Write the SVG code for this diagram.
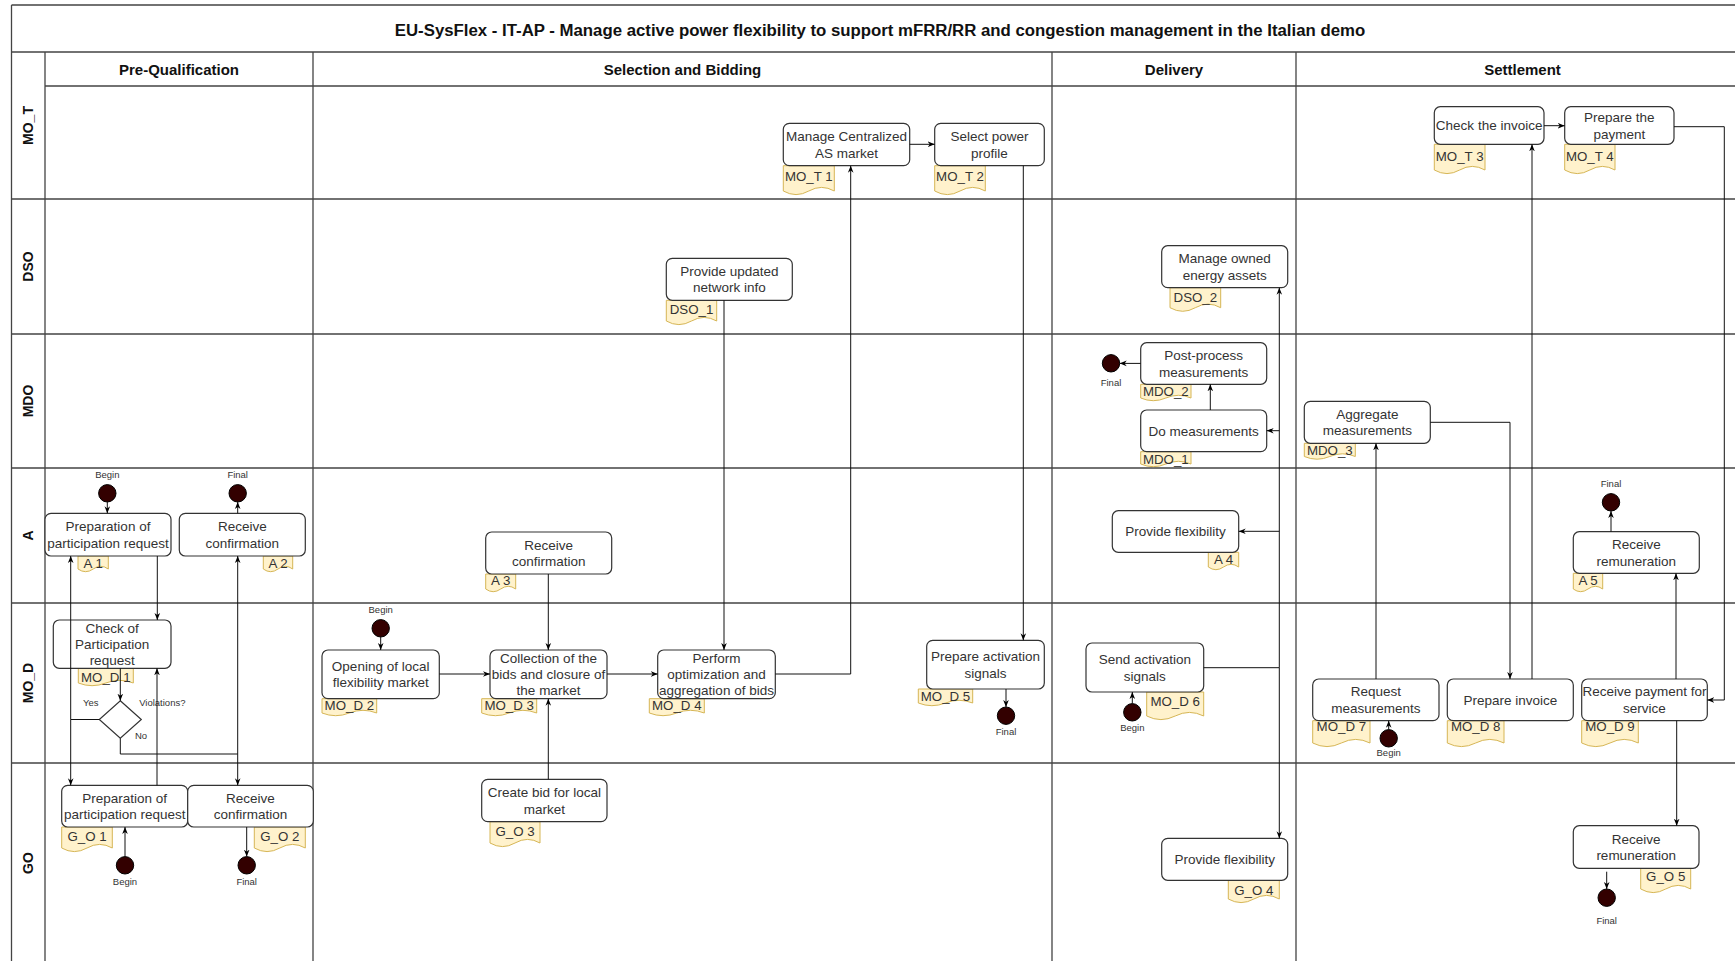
<svg xmlns="http://www.w3.org/2000/svg" width="1735" height="961" viewBox="0 0 1735 961">
  <defs>
    <marker id="arr" viewBox="0 0 10 10" refX="10" refY="5" markerWidth="7" markerHeight="7" markerUnits="userSpaceOnUse" orient="auto">
      <path d="M0,1 L10,5 L0,9 L3,5 Z" fill="#000"/>
    </marker>
    <style>
      .ln { stroke:#444; stroke-width:1.3; fill:none }
      .box { fill:#fff; stroke:#333; stroke-width:1.2 }
      .tag { fill:#fff2cc; stroke:#d6b656; stroke-width:1 }
      .t { font-family:"Liberation Sans", Arial, sans-serif; font-size:13.5px; fill:#333; text-anchor:middle }
      .tg { font-size:13.3px }
      .sm { font-size:9.5px }
      .hd { font-weight:bold; fill:#111; font-size:15px }
      .ttl { font-weight:bold; fill:#111; font-size:16.8px }
      .lane { font-weight:bold; fill:#111; font-size:14px }
      .edge { fill:none; stroke:#111; stroke-width:1; marker-end:url(#arr) }
      .dot { fill:#330000; stroke:#000; stroke-width:1 }
      .dia { fill:#fff; stroke:#333; stroke-width:1.2 }
    </style>
  </defs>

  <rect width="1735" height="961" fill="#fff"/>

  <!-- pool frame, phase columns and swimlanes -->
  <g id="frame">
    <path class="ln" d="M11.5,5 H1749 M11.5,5 V963 M11.5,52 H1749 M45,86 H1749 M45,52 V963"/>
    <path class="ln" d="M11.5,199 H1749 M11.5,334 H1749 M11.5,468 H1749 M11.5,603 H1749 M11.5,763 H1749"/>
    <path class="ln" d="M313,52 V963 M1052,52 V963 M1296,52 V963"/>
    <text class="t ttl" x="880" y="36">EU-SysFlex - IT-AP - Manage active power flexibility to support mFRR/RR and congestion management in the Italian demo</text>
    <text class="t hd" x="179" y="75">Pre-Qualification</text>
    <text class="t hd" x="682.5" y="75">Selection and Bidding</text>
    <text class="t hd" x="1174" y="75">Delivery</text>
    <text class="t hd" x="1522.5" y="75">Settlement</text>
    <text class="t lane" transform="translate(33,125.5) rotate(-90)">MO_T</text>
    <text class="t lane" transform="translate(33,266.5) rotate(-90)">DSO</text>
    <text class="t lane" transform="translate(33,401) rotate(-90)">MDO</text>
    <text class="t lane" transform="translate(33,535.5) rotate(-90)">A</text>
    <text class="t lane" transform="translate(33,683) rotate(-90)">MO_D</text>
    <text class="t lane" transform="translate(33,863) rotate(-90)">GO</text>
  </g>

  <!-- Pre-Qualification -->
  <g id="A1">
    <path class="tag" d="M78,556 H108.3 V569 Q100.7,563.6 93.2,569 Q85.6,574.4 78,569 Z"/>
    <text class="t tg" x="93.2" y="567.6">A 1</text>
    <rect class="box" x="45" y="513.3" width="126" height="42.7" rx="6"/>
    <text class="t" x="108" y="531.15">Preparation of</text>
    <text class="t" x="108" y="547.75">participation request</text>
  </g>
  <g id="A2">
    <path class="tag" d="M263.3,556 H292.7 V569 Q285.35,563.6 278,569 Q270.65,574.4 263.3,569 Z"/>
    <text class="t tg" x="278" y="567.6">A 2</text>
    <rect class="box" x="179.3" y="513.3" width="126" height="42.7" rx="6"/>
    <text class="t" x="242.3" y="531.15">Receive</text>
    <text class="t" x="242.3" y="547.75">confirmation</text>
  </g>
  <g id="MO_D1">
    <path class="tag" d="M78.3,668.3 H133.3 V683 Q119.55,677.6 105.8,683 Q92.05,688.4 78.3,683 Z"/>
    <text class="t tg" x="105.8" y="681.6">MO_D 1</text>
    <rect class="box" x="53.3" y="620" width="117.7" height="48.3" rx="6"/>
    <text class="t" x="112.15" y="632.95">Check of</text>
    <text class="t" x="112.15" y="648.95">Participation</text>
    <text class="t" x="112.15" y="664.95">request</text>
  </g>
  <g id="Decision1">
    <path class="dia" d="M120.3,700.7 L141.3,719.5 L120.3,738.3 L99.3,719.5 Z"/>
    <text class="t sm" x="90.7" y="706.2">Yes</text>
    <text class="t sm" x="162.3" y="706.2">Violations?</text>
    <text class="t sm" x="141" y="738.5">No</text>
  </g>
  <g id="G_O1">
    <path class="tag" d="M61.7,827 H112.3 V848 Q99.65,840.8 87,848 Q74.35,855.2 61.7,848 Z"/>
    <text class="t tg" x="87" y="840.6">G_O 1</text>
    <rect class="box" x="61.7" y="785.3" width="126" height="41.7" rx="6"/>
    <text class="t" x="124.7" y="802.65">Preparation of</text>
    <text class="t" x="124.7" y="819.25">participation request</text>
  </g>
  <g id="G_O2">
    <path class="tag" d="M254.3,827 H305.3 V848 Q292.55,840.8 279.8,848 Q267.05,855.2 254.3,848 Z"/>
    <text class="t tg" x="279.8" y="840.6">G_O 2</text>
    <rect class="box" x="187.7" y="785.3" width="125.6" height="41.7" rx="6"/>
    <text class="t" x="250.5" y="802.65">Receive</text>
    <text class="t" x="250.5" y="819.25">confirmation</text>
  </g>
  <g id="PQ-events">
    <circle class="dot" cx="107.3" cy="493.3" r="8.7"/>
    <text class="t sm" x="107.3" y="478.2">Begin</text>
    <circle class="dot" cx="237.7" cy="493.3" r="8.7"/>
    <text class="t sm" x="237.7" y="478.2">Final</text>
    <circle class="dot" cx="125" cy="865.3" r="8.7"/>
    <text class="t sm" x="125" y="885.2">Begin</text>
    <circle class="dot" cx="246.7" cy="865.3" r="8.7"/>
    <text class="t sm" x="246.7" y="885.2">Final</text>
  </g>

  <!-- Selection and Bidding -->
  <g id="A3">
    <path class="tag" d="M485.7,574 H515.7 V589 Q508.2,583.6 500.7,589 Q493.2,594.4 485.7,589 Z"/>
    <text class="t tg" x="500.7" y="584.6">A 3</text>
    <rect class="box" x="485.7" y="532" width="126" height="42" rx="6"/>
    <text class="t" x="548.7" y="549.5">Receive</text>
    <text class="t" x="548.7" y="566.1">confirmation</text>
  </g>
  <g id="MO_D2">
    <path class="tag" d="M322,698.7 H376.7 V713 Q363,707.6 349.35,713 Q335.7,718.4 322,713 Z"/>
    <text class="t tg" x="349.35" y="710.3">MO_D 2</text>
    <rect class="box" x="322" y="650" width="117.3" height="48.7" rx="6"/>
    <text class="t" x="380.65" y="670.85">Opening of local</text>
    <text class="t" x="380.65" y="687.45">flexibility market</text>
  </g>
  <g id="MO_D3">
    <path class="tag" d="M481.7,698.7 H536.7 V713 Q522.95,707.6 509.2,713 Q495.45,718.4 481.7,713 Z"/>
    <text class="t tg" x="509.2" y="710.3">MO_D 3</text>
    <rect class="box" x="490" y="650" width="117" height="48.7" rx="6"/>
    <text class="t" x="548.5" y="663.15">Collection of the</text>
    <text class="t" x="548.5" y="679.15">bids and closure of</text>
    <text class="t" x="548.5" y="695.15">the market</text>
  </g>
  <g id="MO_D4">
    <path class="tag" d="M649.3,698.7 H704.3 V713 Q690.55,707.6 676.8,713 Q663.05,718.4 649.3,713 Z"/>
    <text class="t tg" x="676.8" y="710.3">MO_D 4</text>
    <rect class="box" x="657.7" y="650" width="117.6" height="48.7" rx="6"/>
    <text class="t" x="716.5" y="663.15">Perform</text>
    <text class="t" x="716.5" y="679.15">optimization and</text>
    <text class="t" x="716.5" y="695.15">aggregation of bids</text>
  </g>
  <g id="G_O3">
    <path class="tag" d="M490,821.7 H540 V843 Q527.5,835.8 515,843 Q502.5,850.2 490,843 Z"/>
    <text class="t tg" x="515" y="835.6">G_O 3</text>
    <rect class="box" x="481.7" y="779.3" width="125.3" height="42.4" rx="6"/>
    <text class="t" x="544.35" y="797">Create bid for local</text>
    <text class="t" x="544.35" y="813.6">market</text>
  </g>
  <g id="MO_T1">
    <path class="tag" d="M783.3,165.7 H834.3 V191 Q821.55,183.8 808.8,191 Q796.05,198.2 783.3,191 Z"/>
    <text class="t tg" x="808.8" y="181.3">MO_T 1</text>
    <rect class="box" x="783.3" y="123.3" width="126.4" height="42.4" rx="6"/>
    <text class="t" x="846.5" y="141">Manage Centralized</text>
    <text class="t" x="846.5" y="157.6">AS market</text>
  </g>
  <g id="MO_T2">
    <path class="tag" d="M934.7,165.7 H985.3 V191 Q972.65,183.8 960,191 Q947.35,198.2 934.7,191 Z"/>
    <text class="t tg" x="960" y="181.3">MO_T 2</text>
    <rect class="box" x="934.7" y="123.3" width="109.6" height="42.4" rx="6"/>
    <text class="t" x="989.5" y="141">Select power</text>
    <text class="t" x="989.5" y="157.6">profile</text>
  </g>
  <g id="DSO_1">
    <path class="tag" d="M666.3,300.3 H716.7 V321 Q704.1,313.8 691.5,321 Q678.9,328.2 666.3,321 Z"/>
    <text class="t tg" x="691.5" y="313.9">DSO_1</text>
    <rect class="box" x="666.3" y="258.3" width="126" height="42" rx="6"/>
    <text class="t" x="729.3" y="275.8">Provide updated</text>
    <text class="t" x="729.3" y="292.4">network info</text>
  </g>
  <g id="MO_D5">
    <path class="tag" d="M918.3,689 H972.7 V703 Q959.1,697.6 945.5,703 Q931.9,708.4 918.3,703 Z"/>
    <text class="t tg" x="945.5" y="701.3">MO_D 5</text>
    <rect class="box" x="926.7" y="640.3" width="117.6" height="48.7" rx="6"/>
    <text class="t" x="985.5" y="661.15">Prepare activation</text>
    <text class="t" x="985.5" y="677.75">signals</text>
  </g>
  <g id="SB-events">
    <circle class="dot" cx="380.7" cy="628.3" r="8.7"/>
    <text class="t sm" x="380.7" y="612.8">Begin</text>
    <circle class="dot" cx="1006" cy="715.7" r="8.7"/>
    <text class="t sm" x="1006" y="734.5">Final</text>
  </g>

  <!-- Delivery -->
  <g id="MO_D6">
    <path class="tag" d="M1146.7,692 H1203.7 V716 Q1189.45,708.8 1175.2,716 Q1160.95,723.2 1146.7,716 Z"/>
    <text class="t tg" x="1175.2" y="706.3">MO_D 6</text>
    <rect class="box" x="1086" y="643" width="117.7" height="49" rx="6"/>
    <text class="t" x="1144.85" y="664">Send activation</text>
    <text class="t" x="1144.85" y="680.6">signals</text>
  </g>
  <g id="G_O4">
    <path class="tag" d="M1228.3,880.3 H1279.3 V899 Q1266.55,891.8 1253.8,899 Q1241.05,906.2 1228.3,899 Z"/>
    <text class="t tg" x="1253.8" y="894.6">G_O 4</text>
    <rect class="box" x="1161.7" y="838.3" width="126" height="42" rx="6"/>
    <text class="t" x="1224.7" y="864.1">Provide flexibility</text>
  </g>
  <g id="DSO_2">
    <path class="tag" d="M1170,287.7 H1220.7 V307.7 Q1208,300.5 1195.35,307.7 Q1182.7,314.9 1170,307.7 Z"/>
    <text class="t tg" x="1195.35" y="302.3">DSO_2</text>
    <rect class="box" x="1161.7" y="245.7" width="126" height="42" rx="6"/>
    <text class="t" x="1224.7" y="263.2">Manage owned</text>
    <text class="t" x="1224.7" y="279.8">energy assets</text>
  </g>
  <g id="MDO_2">
    <path class="tag" d="M1140.7,384.3 H1191 V398 Q1178.4,392.6 1165.85,398 Q1153.3,403.4 1140.7,398 Z"/>
    <text class="t tg" x="1165.85" y="396.3">MDO_2</text>
    <rect class="box" x="1140.7" y="342.7" width="126" height="41.6" rx="6"/>
    <text class="t" x="1203.7" y="360">Post-process</text>
    <text class="t" x="1203.7" y="376.6">measurements</text>
  </g>
  <g id="MDO_1">
    <path class="tag" d="M1140.7,451.7 H1191 V464 Q1178.4,458.6 1165.85,464 Q1153.3,469.4 1140.7,464 Z"/>
    <text class="t tg" x="1165.85" y="463.6">MDO_1</text>
    <rect class="box" x="1140.7" y="410" width="126" height="41.7" rx="6"/>
    <text class="t" x="1203.7" y="435.65">Do measurements</text>
  </g>
  <g id="A4">
    <path class="tag" d="M1208.3,552.3 H1238.7 V567 Q1231.1,561.6 1223.5,567 Q1215.9,572.4 1208.3,567 Z"/>
    <text class="t tg" x="1223.5" y="563.6">A 4</text>
    <rect class="box" x="1112.3" y="510.7" width="126.4" height="41.6" rx="6"/>
    <text class="t" x="1175.5" y="536.3">Provide flexibility</text>
  </g>
  <g id="DL-events">
    <circle class="dot" cx="1132.3" cy="712.3" r="8.7"/>
    <text class="t sm" x="1132.3" y="731.2">Begin</text>
    <circle class="dot" cx="1111" cy="363.3" r="8.7"/>
    <text class="t sm" x="1111" y="385.8">Final</text>
  </g>

  <!-- Settlement -->
  <g id="MO_T3">
    <path class="tag" d="M1434.3,144.3 H1485 V170 Q1472.3,162.8 1459.65,170 Q1447,177.2 1434.3,170 Z"/>
    <text class="t tg" x="1459.65" y="160.6">MO_T 3</text>
    <rect class="box" x="1434.3" y="106.7" width="109.7" height="37.6" rx="6"/>
    <text class="t" x="1489.15" y="130.3">Check the invoice</text>
  </g>
  <g id="MO_T4">
    <path class="tag" d="M1564.7,144.3 H1615 V170 Q1602.4,162.8 1589.85,170 Q1577.3,177.2 1564.7,170 Z"/>
    <text class="t tg" x="1589.85" y="160.6">MO_T 4</text>
    <rect class="box" x="1564.7" y="106.7" width="109.3" height="37.6" rx="6"/>
    <text class="t" x="1619.35" y="122">Prepare the</text>
    <text class="t" x="1619.35" y="138.6">payment</text>
  </g>
  <g id="MDO_3">
    <path class="tag" d="M1304.3,443.3 H1355.3 V456.5 Q1342.55,451.1 1329.8,456.5 Q1317.05,461.9 1304.3,456.5 Z"/>
    <text class="t tg" x="1329.8" y="454.9">MDO_3</text>
    <rect class="box" x="1304.3" y="401.3" width="126" height="42" rx="6"/>
    <text class="t" x="1367.3" y="418.8">Aggregate</text>
    <text class="t" x="1367.3" y="435.4">measurements</text>
  </g>
  <g id="A5">
    <path class="tag" d="M1573.3,573.3 H1602.7 V589 Q1595.35,583.6 1588,589 Q1580.65,594.4 1573.3,589 Z"/>
    <text class="t tg" x="1588" y="584.9">A 5</text>
    <rect class="box" x="1573.3" y="531.7" width="126" height="41.6" rx="6"/>
    <text class="t" x="1636.3" y="549">Receive</text>
    <text class="t" x="1636.3" y="565.6">remuneration</text>
  </g>
  <g id="MO_D7">
    <path class="tag" d="M1312.7,720.7 H1370 V743 Q1355.7,735.8 1341.35,743 Q1327,750.2 1312.7,743 Z"/>
    <text class="t tg" x="1341.35" y="731.3">MO_D 7</text>
    <rect class="box" x="1312.7" y="679" width="126.3" height="41.7" rx="6"/>
    <text class="t" x="1375.85" y="696.35">Request</text>
    <text class="t" x="1375.85" y="712.95">measurements</text>
  </g>
  <g id="MO_D8">
    <path class="tag" d="M1447.3,720.7 H1504 V743 Q1489.8,735.8 1475.65,743 Q1461.5,750.2 1447.3,743 Z"/>
    <text class="t tg" x="1475.65" y="731.3">MO_D 8</text>
    <rect class="box" x="1447.3" y="679" width="126" height="41.7" rx="6"/>
    <text class="t" x="1510.3" y="704.65">Prepare invoice</text>
  </g>
  <g id="MO_D9">
    <path class="tag" d="M1581.7,720.7 H1638.3 V743 Q1624.15,735.8 1610,743 Q1595.85,750.2 1581.7,743 Z"/>
    <text class="t tg" x="1610" y="731.3">MO_D 9</text>
    <rect class="box" x="1581.7" y="679" width="125.6" height="41.7" rx="6"/>
    <text class="t" x="1644.5" y="696.35">Receive payment for</text>
    <text class="t" x="1644.5" y="712.95">service</text>
  </g>
  <g id="G_O5">
    <path class="tag" d="M1640.7,868.3 H1690.7 V889 Q1678.2,881.8 1665.7,889 Q1653.2,896.2 1640.7,889 Z"/>
    <text class="t tg" x="1665.7" y="881.3">G_O 5</text>
    <rect class="box" x="1573.3" y="825.7" width="125.7" height="42.6" rx="6"/>
    <text class="t" x="1636.15" y="843.5">Receive</text>
    <text class="t" x="1636.15" y="860.1">remuneration</text>
  </g>
  <g id="ST-events">
    <circle class="dot" cx="1611" cy="502.3" r="8.7"/>
    <text class="t sm" x="1611" y="486.5">Final</text>
    <circle class="dot" cx="1388.7" cy="738.3" r="8.7"/>
    <text class="t sm" x="1388.7" y="755.8">Begin</text>
    <circle class="dot" cx="1606.7" cy="897.7" r="8.7"/>
    <text class="t sm" x="1606.7" y="923.5">Final</text>
  </g>

  <!-- sequence flows -->
  <g id="connectors">
    <path class="edge" d="M107.3,502 V513.3"/>
    <path class="edge" d="M237.7,513.3 V502"/>
    <path class="edge" d="M157.3,556 V620"/>
    <path class="edge" d="M120.3,668.3 V700.7"/>
    <path class="edge" d="M99.3,719.5 H70.7 V556"/>
    <path class="edge" d="M70.7,719.5 V785.3"/>
    <path class="edge" d="M120.3,738.3 V754 H237.7 V556"/>
    <path class="edge" d="M237.7,754 V785.3"/>
    <path class="edge" d="M157,785.3 V668.3"/>
    <path class="edge" d="M125,856.6 V827"/>
    <path class="edge" d="M246.7,827 V856.6"/>

    <path class="edge" d="M380.7,637 V650"/>
    <path class="edge" d="M439.3,674 H490"/>
    <path class="edge" d="M607,674 H657.7"/>
    <path class="edge" d="M548.3,574 V650"/>
    <path class="edge" d="M548.3,779.3 V698.7"/>
    <path class="edge" d="M724,300.3 V650"/>
    <path class="edge" d="M775.3,674 H850.7 V165.7"/>
    <path class="edge" d="M909.7,144.3 H934.7"/>
    <path class="edge" d="M1023.3,165.7 V640.3"/>
    <path class="edge" d="M1006,689 V707"/>

    <path class="edge" d="M1132.3,703.6 V692"/>
    <path class="edge" d="M1203.7,667.7 H1279.3 V287.7"/>
    <path class="edge" d="M1279.3,430.7 H1266.7"/>
    <path class="edge" d="M1279.3,531.3 H1238.7"/>
    <path class="edge" d="M1279.3,667.7 V838.3"/>
    <path class="edge" d="M1210.3,410 V384.3"/>
    <path class="edge" d="M1140.7,363.4 H1119.7"/>

    <path class="edge" d="M1544,125.7 H1564.7"/>
    <path class="edge" d="M1674,126.7 H1724.3 V700 H1707.3"/>
    <path class="edge" d="M1376,679 V443.3"/>
    <path class="edge" d="M1430.3,422.3 H1510 V679"/>
    <path class="edge" d="M1532,679 V144.3"/>
    <path class="edge" d="M1676,679 V573.3"/>
    <path class="edge" d="M1611,531.7 V511"/>
    <path class="edge" d="M1676.7,720.7 V825.7"/>
    <path class="edge" d="M1606.7,871.7 V889"/>
    <path class="edge" d="M1388.7,729.6 V720.7"/>
  </g>
</svg>
